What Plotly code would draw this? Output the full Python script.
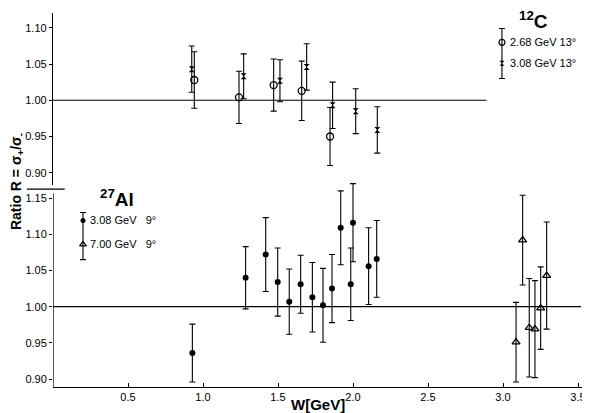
import plotly.graph_objects as go

# ---------------- data ----------------
# 12C, 2.68 GeV 13 deg (open circles)
c268_w = [0.942, 1.240, 1.471, 1.658, 1.847]
c268_r = [1.028, 1.004, 1.021, 1.013, 0.950]
c268_e = [0.039, 0.036, 0.036, 0.041, 0.040]

# 12C, 3.08 GeV 13 deg (stars)
c308_w = [0.925, 1.271, 1.513, 1.691, 1.864, 2.018, 2.162]
c308_r = [1.043, 1.033, 1.027, 1.046, 0.993, 0.985, 0.959]
c308_e = [0.032, 0.031, 0.029, 0.032, 0.032, 0.031, 0.032]

# 27Al, 3.08 GeV 9 deg (filled circles)
al308_w = [0.929, 1.284, 1.418, 1.498, 1.575, 1.651, 1.729, 1.800, 1.860,
           1.918, 1.985, 2.000, 2.104, 2.158]
al308_r = [0.936, 1.040, 1.072, 1.034, 1.007, 1.031, 1.013, 1.002, 1.025,
           1.109, 1.031, 1.116, 1.056, 1.066]
al308_e = [0.040, 0.043, 0.051, 0.047, 0.045, 0.040, 0.048, 0.051, 0.047,
           0.051, 0.050, 0.054, 0.053, 0.053]

# 27Al, 7.00 GeV 9 deg (open triangles)
al700_w = [3.087, 3.131, 3.175, 3.213, 3.251, 3.291]
al700_r = [0.951, 1.092, 0.971, 0.969, 0.998, 1.043]
al700_e = [0.055, 0.062, 0.068, 0.067, 0.057, 0.074]

# legend keys (data coordinates of the key glyphs)
key_c_w = [2.993]
key_c_r = [1.080, 1.051]
key_c_bar = [1.0645, 0.0345]
key_al_w = [0.200]
key_al_r = [1.119, 1.086]
key_al_bar = [1.0975, 0.0325]

x_ticks = [0.5, 1.0, 1.5, 2.0, 2.5, 3.0, 3.5]
x_ticklabels = ["0.5", "1.0", "1.5", "2.0", "2.5", "3.0", "3.5"]
y_ticks_upper = [0.90, 0.95, 1.00, 1.05, 1.10]
y_ticks_lower = [0.90, 0.95, 1.00, 1.05, 1.10, 1.15]
lower_axis_span = [0.8891, 1.1563]   # drawn extent of the lower ratio axis
unity = 1.0
upper_line_end = 2.89
lower_line_end = 3.52

FONT = "Liberation Sans, Arial, sans-serif"
BLACK = "black"


def err(arr, w=1.1, cap=3):
    return dict(type="data", array=arr, visible=True, color=BLACK,
                thickness=w, width=cap)


fig = go.Figure()

# upper panel (12C)
fig.add_trace(go.Scatter(x=c268_w, y=c268_r, mode="markers", xaxis="x2", yaxis="y2",
                         marker=dict(symbol="circle-open", size=7, color=BLACK,
                                     line=dict(width=1.3, color=BLACK)),
                         error_y=err(c268_e), showlegend=False))
fig.add_trace(go.Scatter(x=c308_w, y=c308_r, mode="markers", xaxis="x2", yaxis="y2",
                         marker=dict(symbol="hourglass", size=6, color=BLACK),
                         error_y=err(c308_e), showlegend=False))
# upper legend key
fig.add_trace(go.Scatter(x=key_c_w, y=[key_c_bar[0]], mode="markers", xaxis="x2", yaxis="y2",
                         marker=dict(size=1, color="rgba(0,0,0,0)"),
                         error_y=err([key_c_bar[1]]), showlegend=False, cliponaxis=False))
fig.add_trace(go.Scatter(x=key_c_w, y=[key_c_r[0]], mode="markers", xaxis="x2", yaxis="y2",
                         marker=dict(symbol="circle-open", size=6, color=BLACK,
                                     line=dict(width=1.2, color=BLACK)),
                         showlegend=False, cliponaxis=False))
fig.add_trace(go.Scatter(x=key_c_w, y=[key_c_r[1]], mode="markers", xaxis="x2", yaxis="y2",
                         marker=dict(symbol="hourglass", size=5, color=BLACK),
                         showlegend=False, cliponaxis=False))

# lower panel (27Al)
fig.add_trace(go.Scatter(x=al308_w, y=al308_r, mode="markers", xaxis="x", yaxis="y",
                         marker=dict(symbol="circle", size=6, color=BLACK),
                         error_y=err(al308_e), showlegend=False, cliponaxis=False))
fig.add_trace(go.Scatter(x=al700_w, y=al700_r, mode="markers", xaxis="x", yaxis="y",
                         marker=dict(symbol="triangle-up-open", size=7, color=BLACK,
                                     line=dict(width=1.3, color=BLACK)),
                         error_y=err(al700_e), showlegend=False, cliponaxis=False))
# lower legend key
fig.add_trace(go.Scatter(x=key_al_w, y=[key_al_bar[0]], mode="markers", xaxis="x", yaxis="y",
                         marker=dict(size=1, color="rgba(0,0,0,0)"),
                         error_y=err([key_al_bar[1]]), showlegend=False))
fig.add_trace(go.Scatter(x=key_al_w, y=[key_al_r[0]], mode="markers", xaxis="x", yaxis="y",
                         marker=dict(symbol="circle", size=5, color=BLACK), showlegend=False))
fig.add_trace(go.Scatter(x=key_al_w, y=[key_al_r[1]], mode="markers", xaxis="x", yaxis="y",
                         marker=dict(symbol="triangle-up-open", size=6, color=BLACK,
                                     line=dict(width=1.2, color=BLACK)), showlegend=False))

# unity reference lines
fig.add_shape(type="line", xref="x2", yref="y2", x0=0, x1=upper_line_end, y0=unity, y1=unity,
              line=dict(color=BLACK, width=1.2), layer="below")
fig.add_shape(type="line", xref="x", yref="y", x0=0, x1=lower_line_end, y0=unity, y1=unity,
              line=dict(color=BLACK, width=1.2), layer="below")
# lower ratio axis spine (drawn so error bars may poke above its top end)
fig.add_shape(type="line", xref="x", yref="y", x0=0, x1=0,
              y0=lower_axis_span[0], y1=lower_axis_span[1],
              line=dict(color=BLACK, width=1.3))
# separator stroke at the panel junction
fig.add_shape(type="line", xref="paper", yref="paper", x0=-0.049, x1=0.022, y0=0.529, y1=0.529,
              line=dict(color=BLACK, width=1.2))

tickfont = dict(family=FONT, size=11, color=BLACK)
# page body has an 8px margin, so the figure is sized 582x405 to fill the 590x413 window
fig.update_layout(
    template="none",
    width=582, height=405,
    margin=dict(l=45, r=3, t=5, b=26, autoexpand=False),
    paper_bgcolor="white", plot_bgcolor="rgba(0,0,0,0)",
    font=dict(family=FONT, color=BLACK),
    xaxis=dict(domain=[0, 1], range=[0, 3.56], anchor="y", automargin=False,
               tickvals=x_ticks, ticktext=x_ticklabels, ticks="inside", ticklen=4,
               tickwidth=1, tickcolor=BLACK, showline=True, linecolor=BLACK, linewidth=1.3,
               showgrid=False, zeroline=False, tickfont=tickfont),
    yaxis=dict(domain=[0, 0.5535], range=[0.8891, 1.175], anchor="x", automargin=False,
               tickvals=y_ticks_lower, ticktext=[f"{v:.2f}" for v in y_ticks_lower],
               ticks="outside", ticklen=3, tickwidth=1, tickcolor=BLACK,
               showline=False,
               showgrid=False, zeroline=False, tickfont=tickfont),
    xaxis2=dict(domain=[0, 1], range=[0, 3.56], anchor="y2", visible=False, matches="x",
                automargin=False),
    yaxis2=dict(domain=[0.5401, 1], range=[0.883, 1.1205], anchor="x2", automargin=False,
                tickvals=y_ticks_upper, ticktext=[f"{v:.2f}" for v in y_ticks_upper],
                ticks="outside", ticklen=3, tickwidth=1, tickcolor=BLACK,
                showline=True, linecolor=BLACK, linewidth=1.3,
                showgrid=False, zeroline=False, tickfont=tickfont),
)

ann = [
    dict(text="<b><sup>12</sup>C</b>", x=0.899, y=0.981, size=19),
    dict(text="<b><sup>27</sup>Al</b>", x=0.12, y=0.505, size=19),
    dict(text="<b>W[GeV]</b>", x=0.497, y=-0.047, size=15),
]
for a in ann:
    fig.add_annotation(text=a["text"], x=a["x"], y=a["y"], xref="paper", yref="paper",
                       showarrow=False, xanchor="center", yanchor="middle",
                       font=dict(family=FONT, size=a["size"], color=BLACK))

leg = [
    ("2.68 GeV 13°", 0.852, 0.9225),
    ("3.08 GeV 13°", 0.852, 0.866),
    ("3.08 GeV   9°", 0.0655, 0.4465),
    ("7.00 GeV   9°", 0.0655, 0.382),
]
for t, x, y in leg:
    fig.add_annotation(text=t, x=x, y=y, xref="paper", yref="paper", showarrow=False,
                       xanchor="left", yanchor="middle",
                       font=dict(family=FONT, size=11, color=BLACK))

fig.add_annotation(text="<b>Ratio R = σ<sub>+</sub>/σ<sub>-</sub></b>", x=-0.0674, y=0.548,
                   xref="paper", yref="paper", showarrow=False, textangle=-90,
                   xanchor="center", yanchor="middle",
                   font=dict(family=FONT, size=14, color=BLACK))

fig.write_html("out.html")
